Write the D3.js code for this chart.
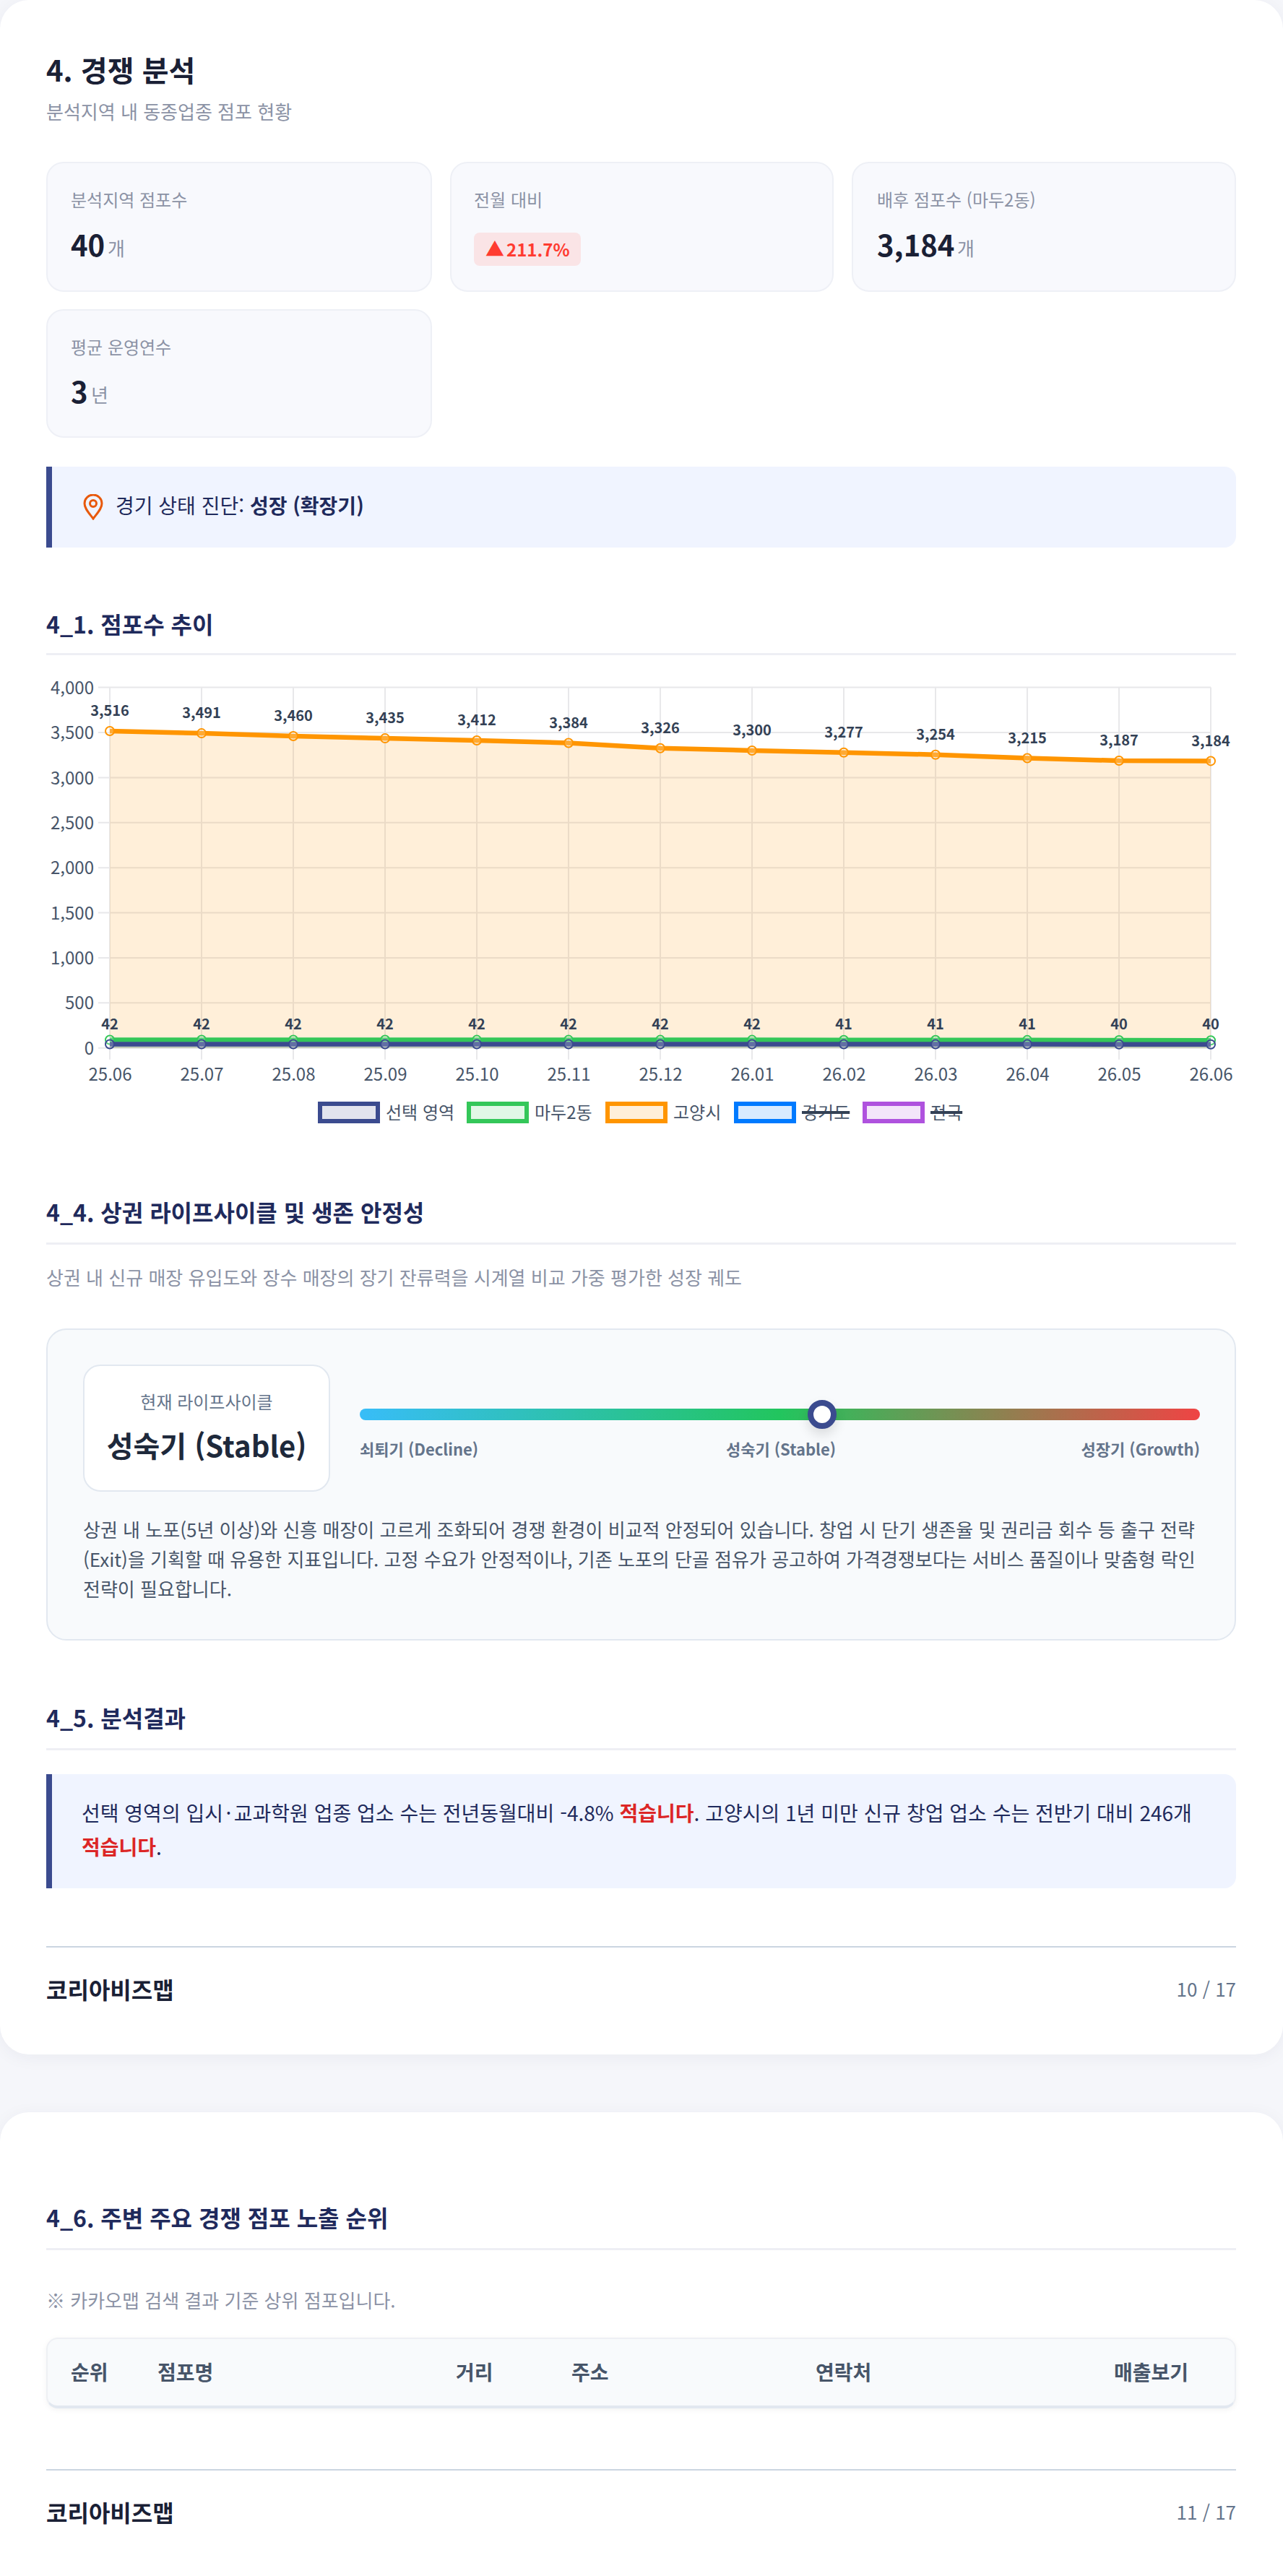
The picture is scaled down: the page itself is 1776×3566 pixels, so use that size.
<!DOCTYPE html>
<html lang="ko"><head><meta charset="utf-8">
<script src="https://cdn.jsdelivr.net/npm/d3@7"></script>
<style>
html,body{margin:0;padding:0;background:#f5f6fa;width:1776px;height:3566px;overflow:hidden}
body{position:relative;font-family:"Noto Sans CJK KR","Noto Sans",sans-serif;color:#1a2035}
.sheet{position:absolute;left:0;width:1776px;background:#fff;box-shadow:0 4px 24px rgba(30,40,80,.05)}
.box{position:absolute;box-sizing:border-box}
.t{position:absolute;line-height:1;white-space:nowrap;transform:translateY(calc(-50% - 1.5px))}
.r{transform:translate(-100%,calc(-50% - 1.5px))}
.c{transform:translate(-50%,calc(-50% - 1.5px))}
.h2{font-size:32px;font-weight:700;color:#1f2a5c;left:64px}
.rule{position:absolute;left:64px;width:1647px;height:3px;background:#eeeff4}
.card{background:#f8f9fd;border:2px solid #eef0f6;border-radius:24px}
.lab{font-size:24px;color:#8b92a5}
.val{font-size:40px;font-weight:700;color:#1a2035}
.unit{font-size:26px;color:#8b92a5}
.th{font-size:28px;font-weight:700;color:#475569}
.foot{font-size:32px;font-weight:700;left:64px;color:#1a2035}
.pg{font-size:26px;color:#64748b;left:1711px}
.axis text{font-family:"Noto Sans CJK KR","Noto Sans",sans-serif}
</style></head><body>
<div class="sheet" style="top:0;height:2844px;border-radius:40px"></div>
<div class="sheet" style="top:2924px;height:642px;border-radius:40px 40px 0 0"></div>

<div class="t" style="left:64px;top:97px;font-size:40px;font-weight:700">4. 경쟁 분석</div>
<div class="t" style="left:64px;top:155px;font-size:26px;color:#8b92a5">분석지역 내 동종업종 점포 현황</div>

<div class="box card" style="left:64px;top:224px;width:534px;height:180px"></div>
<div class="box card" style="left:623px;top:224px;width:531px;height:180px"></div>
<div class="box card" style="left:1179px;top:224px;width:532px;height:180px"></div>
<div class="box card" style="left:64px;top:428px;width:534px;height:178px"></div>

<div class="t lab" style="left:98px;top:277px">분석지역 점포수</div>
<div class="t val" style="left:98px;top:339px">40</div><div class="t unit" style="left:149px;top:344px">개</div>
<div class="t lab" style="left:656px;top:277px">전월 대비</div>
<div class="box" style="left:656px;top:322px;width:148px;height:46px;background:#fae4e6;border-radius:8px"></div>
<div class="t" style="left:672px;top:345px;font-size:26px;font-weight:700;color:#ff3b30">▲</div>
<div class="t" style="left:701px;top:346px;font-size:24px;font-weight:700;color:#ff3b30">211.7%</div>
<div class="t lab" style="left:1214px;top:277px">배후 점포수 (마두2동)</div>
<div class="t val" style="left:1214px;top:339px">3,184</div><div class="t unit" style="left:1325px;top:344px">개</div>
<div class="t lab" style="left:98px;top:481px">평균 운영연수</div>
<div class="t val" style="left:98px;top:542px">3</div><div class="t unit" style="left:126px;top:547px">년</div>

<div class="box" style="left:64px;top:646px;width:1647px;height:112px;background:#f0f4ff;border-left:8px solid #3b4b8f;border-radius:0 16px 16px 0"></div>
<svg style="position:absolute;left:115px;top:684px" width="28" height="36" viewBox="0 0 28 36"><path d="M14 34C8 26 2 20 2 13a12 12 0 0 1 24 0c0 7-6 13-12 21z" fill="none" stroke="#e8590c" stroke-width="3"/><circle cx="14" cy="13" r="4.5" fill="none" stroke="#e8590c" stroke-width="3"/></svg>
<div class="t" style="left:160px;top:700px;font-size:28px;color:#1f2a5c">경기 상태 진단: <b>성장 (확장기)</b></div>

<div class="t h2" style="top:864px">4_1. 점포수 추이</div>
<div class="rule" style="top:904px"></div>
<svg id="chart" style="position:absolute;left:0;top:920px" width="1776" height="660"></svg>

<div class="t h2" style="top:1678px">4_4. 상권 라이프사이클 및 생존 안정성</div>
<div class="rule" style="top:1720px"></div>
<div class="t" style="left:64px;top:1769px;font-size:26px;color:#8b92a5">상권 내 신규 매장 유입도와 장수 매장의 장기 잔류력을 시계열 비교 가중 평가한 성장 궤도</div>
<div class="box" style="left:64px;top:1839px;width:1647px;height:432px;background:#f8fafc;border:2px solid #e2e8f0;border-radius:28px"></div>
<div class="box" style="left:115px;top:1889px;width:342px;height:176px;background:#fff;border:2px solid #e2e8f0;border-radius:24px"></div>
<div class="t c" style="left:286px;top:1941px;font-size:24px;color:#64748b">현재 라이프사이클</div>
<div class="t c" style="left:286px;top:2001px;font-size:40px;font-weight:700;color:#1e293b">성숙기 (Stable)</div>
<div class="box" style="left:498px;top:1950px;width:1163px;height:16px;border-radius:8px;background:linear-gradient(90deg,#38bdf8 0%,#22c55e 50%,#ef4444 100%)"></div>
<div class="box" style="left:1118px;top:1938px;width:40px;height:40px;border-radius:50%;background:#fff;border:8px solid #3b4b8f;box-shadow:0 8px 16px rgba(0,0,0,.12)"></div>
<div class="t" style="left:498px;top:2006px;font-size:22px;font-weight:700;color:#64748b">쇠퇴기 (Decline)</div>
<div class="t c" style="left:1081px;top:2006px;font-size:22px;font-weight:700;color:#64748b">성숙기 (Stable)</div>
<div class="t r" style="left:1661px;top:2006px;font-size:22px;font-weight:700;color:#64748b">성장기 (Growth)</div>
<div class="t" style="left:115px;top:2118px;font-size:26px;color:#475569">상권 내 노포(5년 이상)와 신흥 매장이 고르게 조화되어 경쟁 환경이 비교적 안정되어 있습니다. 창업 시 단기 생존율 및 권리금 회수 등 출구 전략</div>
<div class="t" style="left:115px;top:2159px;font-size:26px;color:#475569">(Exit)을 기획할 때 유용한 지표입니다. 고정 수요가 안정적이나, 기존 노포의 단골 점유가 공고하여 가격경쟁보다는 서비스 품질이나 맞춤형 락인</div>
<div class="t" style="left:115px;top:2200px;font-size:26px;color:#475569">전략이 필요합니다.</div>

<div class="t h2" style="top:2378px">4_5. 분석결과</div>
<div class="rule" style="top:2420px"></div>
<div class="box" style="left:64px;top:2456px;width:1647px;height:158px;background:#f0f4ff;border-left:8px solid #3b4b8f;border-radius:0 16px 16px 0"></div>
<div class="t" style="left:113px;top:2510px;font-size:28px;color:#1f2a5c">선택 영역의 입시<span style="margin:0 3.5px">·</span>교과학원 업종 업소 수는 전년동월대비 -4.8% <b style="color:#dc2626">적습니다</b>. 고양시의 1년 미만 신규 창업 업소 수는 전반기 대비 246개</div>
<div class="t" style="left:113px;top:2557px;font-size:28px;color:#1f2a5c"><b style="color:#dc2626">적습니다</b>.</div>
<div class="box" style="left:64px;top:2694px;width:1647px;height:2px;background:#cbd5e1"></div>
<div class="t foot" style="top:2754px">코리아비즈맵</div>
<div class="t r pg" style="top:2754px">10 / 17</div>

<div class="t h2" style="top:3070px">4_6. 주변 주요 경쟁 점포 노출 순위</div>
<div class="rule" style="top:3112px"></div>
<div class="t" style="left:64px;top:3185px;font-size:26px;color:#8b92a5">※ 카카오맵 검색 결과 기준 상위 점포입니다.</div>
<div class="box" style="left:64px;top:3236px;width:1647px;height:98px;background:#f8fafc;border:2px solid #eef0f4;border-bottom:4px solid #e2e8f0;border-radius:16px;box-shadow:0 2px 8px rgba(0,0,0,.05)"></div>
<div class="t th" style="left:98px;top:3284px">순위</div>
<div class="t th" style="left:218px;top:3284px">점포명</div>
<div class="t th" style="left:631px;top:3284px">거리</div>
<div class="t th" style="left:791px;top:3284px">주소</div>
<div class="t th" style="left:1129px;top:3284px">연락처</div>
<div class="t th" style="left:1542px;top:3284px">매출보기</div>
<div class="box" style="left:64px;top:3418px;width:1647px;height:2px;background:#cbd5e1"></div>
<div class="t foot" style="top:3478px">코리아비즈맵</div>
<div class="t r pg" style="top:3478px">11 / 17</div>

<script>
const months=["25.06","25.07","25.08","25.09","25.10","25.11","25.12","26.01","26.02","26.03","26.04","26.05","26.06"];
const selectedArea=[42,42,42,42,42,42,42,42,41,41,41,40,40];
const madu2=[90,90,90,90,89,89,89,89,88,88,87,86,84];
const goyang=[3516,3491,3460,3435,3412,3384,3326,3300,3277,3254,3215,3187,3184];
const yTicks=[0,500,1000,1500,2000,2500,3000,3500,4000];
const legendNames=["선택 영역","마두2동","고양시","경기도","전국"];
const legendColors=["#3b4b8f","#34c759","#ff9500","#007aff","#af52de"];
const legendHidden=[false,false,false,true,true];

const svg=d3.select("#chart");
const font='"Noto Sans CJK KR","Noto Sans",sans-serif';
const margin={left:152,right:100,top:31.6,bottom:129.3};
const W=1776,H=660;
const x=d3.scalePoint().domain(months).range([margin.left,W-margin.right]);
const y=d3.scaleLinear().domain([0,4000]).range([H-margin.bottom,margin.top]);
const grid="#e8e8ea";

svg.append("g").selectAll("line").data(yTicks).join("line")
 .attr("x1",margin.left-16).attr("x2",W-margin.right).attr("y1",d=>y(d)).attr("y2",d=>y(d))
 .attr("stroke",grid).attr("stroke-width",2);
svg.append("g").selectAll("line").data(months).join("line")
 .attr("x1",d=>x(d)).attr("x2",d=>x(d)).attr("y1",margin.top).attr("y2",y(0)+16)
 .attr("stroke",grid).attr("stroke-width",2);

const yAxis=d3.axisLeft(y).tickValues(yTicks).tickSize(0).tickPadding(22).tickFormat(d3.format(","));
const gy=svg.append("g").attr("class","axis").attr("transform",`translate(${margin.left},0)`).call(yAxis);
gy.select(".domain").remove();
gy.selectAll("text").attr("font-size",24).attr("fill","#475569").attr("dy","0.36em");
const xAxis=d3.axisBottom(x).tickSize(0).tickPadding(28);
const gx=svg.append("g").attr("class","axis").attr("transform",`translate(0,${y(0)})`).call(xAxis);
gx.select(".domain").remove();
gx.selectAll("text").attr("font-size",24).attr("fill","#475569");

const series=[{v:goyang,c:legendColors[2],labels:true},{v:madu2,c:legendColors[1],labels:false},{v:selectedArea,c:legendColors[0],labels:true}];
const area=d3.area().x((d,i)=>x(months[i])).y0(y(0)).y1(d=>y(d));
const line=d3.line().x((d,i)=>x(months[i])).y(d=>y(d));
series.forEach(s=>{
  svg.append("path").datum(s.v).attr("d",area).attr("fill",s.c).attr("fill-opacity",.15);
  svg.append("path").datum(s.v).attr("d",line).attr("fill","none").attr("stroke",s.c).attr("stroke-width",6.5).attr("stroke-linejoin","round");
  svg.append("g").selectAll("circle").data(s.v).join("circle")
   .attr("cx",(d,i)=>x(months[i])).attr("cy",d=>y(d)).attr("r",6)
   .attr("fill","#ffffff").attr("fill-opacity",.2).attr("stroke",s.c).attr("stroke-width",2);
});
series.filter(s=>s.labels).forEach(s=>{
  svg.append("g").selectAll("text").data(s.v).join("text")
   .attr("x",(d,i)=>x(months[i])).attr("y",d=>y(d)-28).attr("dy","0.36em")
   .attr("text-anchor","middle").attr("font-size",20).attr("font-weight",700).attr("font-family",font)
   .attr("fill","#334155").text(d3.format(","));
});

// legend
const legendBoxX=[440,646,838,1016,1194];
const lg=svg.append("g").attr("transform","translate(0,605)");
legendNames.forEach((n,i)=>{
  lg.append("rect").attr("x",legendBoxX[i]+3).attr("y",3).attr("width",80).attr("height",24)
    .attr("fill",legendColors[i]).attr("fill-opacity",.15).attr("stroke",legendColors[i]).attr("stroke-width",6);
  const t=lg.append("text").attr("x",legendBoxX[i]+94).attr("y",15).attr("dy","0.36em").attr("font-size",24)
    .attr("font-family",font).attr("fill","#475569").text(n);
  if(legendHidden[i]){
    const w=t.node().getComputedTextLength();
    lg.append("line").attr("x1",legendBoxX[i]+94).attr("x2",legendBoxX[i]+94+w).attr("y1",15).attr("y2",15).attr("stroke","#334155").attr("stroke-width",4);
  }
});
</script>
</body></html>
